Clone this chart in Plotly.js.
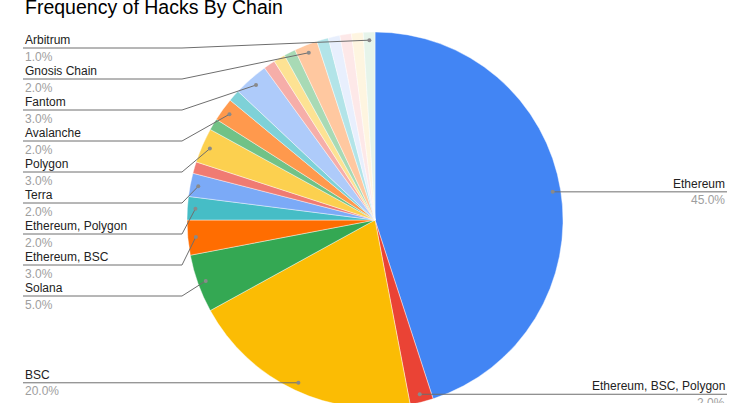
<!DOCTYPE html>
<html>
<head>
<meta charset="utf-8">
<script src="https://cdn.plot.ly/plotly-3.0.1.min.js"></script>
<style>
  html, body { margin: 0; padding: 0; background: #fff; overflow: hidden; }
  #chart { width: 750px; height: 440px; }
</style>
</head>
<body>
<div id="chart"></div>
<script>
// Hacks per chain, in sheet order (slices run clockwise from 12 o'clock)
const chains = [
  'Ethereum', 'Ethereum, BSC, Polygon', 'BSC', 'Solana', 'Ethereum, BSC',
  'Ethereum, Polygon', 'Terra', 'Harmony', 'Polygon', 'Cronos', 'Avalanche',
  'Optimism', 'Fantom', 'Moonriver', 'Near', 'Heco', 'Gnosis Chain', 'Celo',
  'Aurora', 'Klaytn', 'Tron', 'Arbitrum'
];
const hacks = [45, 2, 20, 5, 3, 2, 2, 1, 3, 1, 2, 1, 3, 1, 1, 1, 2, 1, 1, 1, 1, 1];

// Slices that get a callout label
const calloutChains = [
  'Ethereum', 'Ethereum, BSC, Polygon', 'BSC', 'Solana', 'Ethereum, BSC',
  'Ethereum, Polygon', 'Terra', 'Polygon', 'Avalanche', 'Fantom',
  'Gnosis Chain', 'Arbitrum'
];

const sliceColors = [
  '#4285f4', '#ea4335', '#fbbc04', '#34a853', '#ff6d01', '#46bdc6', '#7baaf7',
  '#f07b72', '#fcd04f', '#71c287', '#ff994d', '#7ed1d7', '#aecbfa', '#f6aea9',
  '#fde293', '#a8dab5', '#ffc8a0', '#b2e4e8', '#e8effd', '#fde8e8', '#fef5e0',
  '#e6f4ea'
];

const chartTitle = 'Frequency of Hacks By Chain';

// ---- geometry of the figure (pixels) ----
const W = 750, H = 440, T = 32, B = 32;
const CX = 375, R = 188;
const CY = T + (H - T - B) / 2;
const DOT_R = 0.957 * R;      // callout dots sit just inside the rim
const LEFT_X = 23, BEND_X = 182, RIGHT_X = 727;
const ROW = 31, TOP_ROW = 48;

const total = hacks.reduce((a, b) => a + b, 0);

// Midpoint of each slice -> callout anchor
const anchors = [];
let cum = 0;
hacks.forEach((v, i) => {
  const mid = (cum + v / 2) / total;
  cum += v;
  if (!calloutChains.includes(chains[i])) return;
  const a = 2 * Math.PI * mid;
  anchors.push({
    name: chains[i],
    pct: (100 * v / total).toFixed(1) + '%',
    x: CX + DOT_R * Math.sin(a),
    y: CY - DOT_R * Math.cos(a),
    left: Math.sin(a) < 0
  });
});

const shapes = [];
const annotations = [];
const lineColor = '#6e6e6e';

function placeSide(list, isLeft) {
  list.sort((p, q) => p.y - q.y);
  let prev = -Infinity;
  list.forEach(p => {
    const rowY = Math.max(p.y, isLeft ? TOP_ROW : 0, prev + ROW);
    prev = rowY;
    let path;
    if (isLeft) {
      path = Math.abs(rowY - p.y) < 0.5
        ? `M${LEFT_X},${rowY} L${p.x},${p.y}`
        : `M${LEFT_X},${rowY} L${BEND_X},${rowY} L${p.x},${p.y}`;
    } else {
      path = `M${p.x},${p.y} L${RIGHT_X},${rowY}`;
    }
    shapes.push({
      type: 'path', xref: 'x', yref: 'y', layer: 'above', path,
      line: { color: lineColor, width: 1 }
    });
    shapes.push({
      type: 'circle', xref: 'x', yref: 'y', layer: 'above',
      x0: p.x - 2, x1: p.x + 2, y0: p.y - 2, y1: p.y + 2,
      fillcolor: '#8a8a8a', line: { width: 0 }
    });
    const tx = isLeft ? LEFT_X : RIGHT_X;
    const anchor = isLeft ? 'left' : 'right';
    annotations.push({
      xref: 'x', yref: 'y', x: tx, y: rowY - 8, xanchor: anchor, yanchor: 'middle',
      text: p.name, showarrow: false,
      font: { family: 'Liberation Sans, Arial, sans-serif', size: 12, color: '#222222' }
    });
    annotations.push({
      xref: 'x', yref: 'y', x: tx, y: rowY + 8.5, xanchor: anchor, yanchor: 'middle',
      text: p.pct, showarrow: false,
      font: { family: 'Liberation Sans, Arial, sans-serif', size: 12, color: '#9e9e9e' }
    });
  });
}

placeSide(anchors.filter(p => p.left), true);
placeSide(anchors.filter(p => !p.left), false);

const data = [
  {
    type: 'pie',
    labels: chains,
    values: hacks,
    sort: false,
    direction: 'clockwise',
    rotation: 0,
    textinfo: 'none',
    hoverinfo: 'none',
    showlegend: false,
    marker: { colors: sliceColors, line: { color: 'rgba(255,255,255,0.7)', width: 0.6 } },
    domain: { x: [(CX - R) / W, (CX + R) / W], y: [0, 1] }
  },
  {
    // empty trace that sets up the pixel-space axes used by the callouts
    type: 'scatter', x: [], y: [], hoverinfo: 'skip', showlegend: false
  }
];

const layout = {
  width: W,
  height: H,
  margin: { l: 0, r: 0, t: T, b: B, pad: 0 },
  paper_bgcolor: '#ffffff',
  plot_bgcolor: 'rgba(0,0,0,0)',
  showlegend: false,
  title: {
    text: chartTitle,
    x: 25 / W, xanchor: 'left', xref: 'container',
    y: 1 - 7 / H, yanchor: 'middle', yref: 'container',
    font: { family: 'Liberation Sans, Arial, sans-serif', size: 19.5, color: '#000000' }
  },
  xaxis: { range: [0, W], visible: false, fixedrange: true },
  yaxis: { range: [H - B, T], visible: false, fixedrange: true },
  shapes,
  annotations
};

Plotly.newPlot('chart', data, layout, { displayModeBar: false, staticPlot: true });
</script>
</body>
</html>
